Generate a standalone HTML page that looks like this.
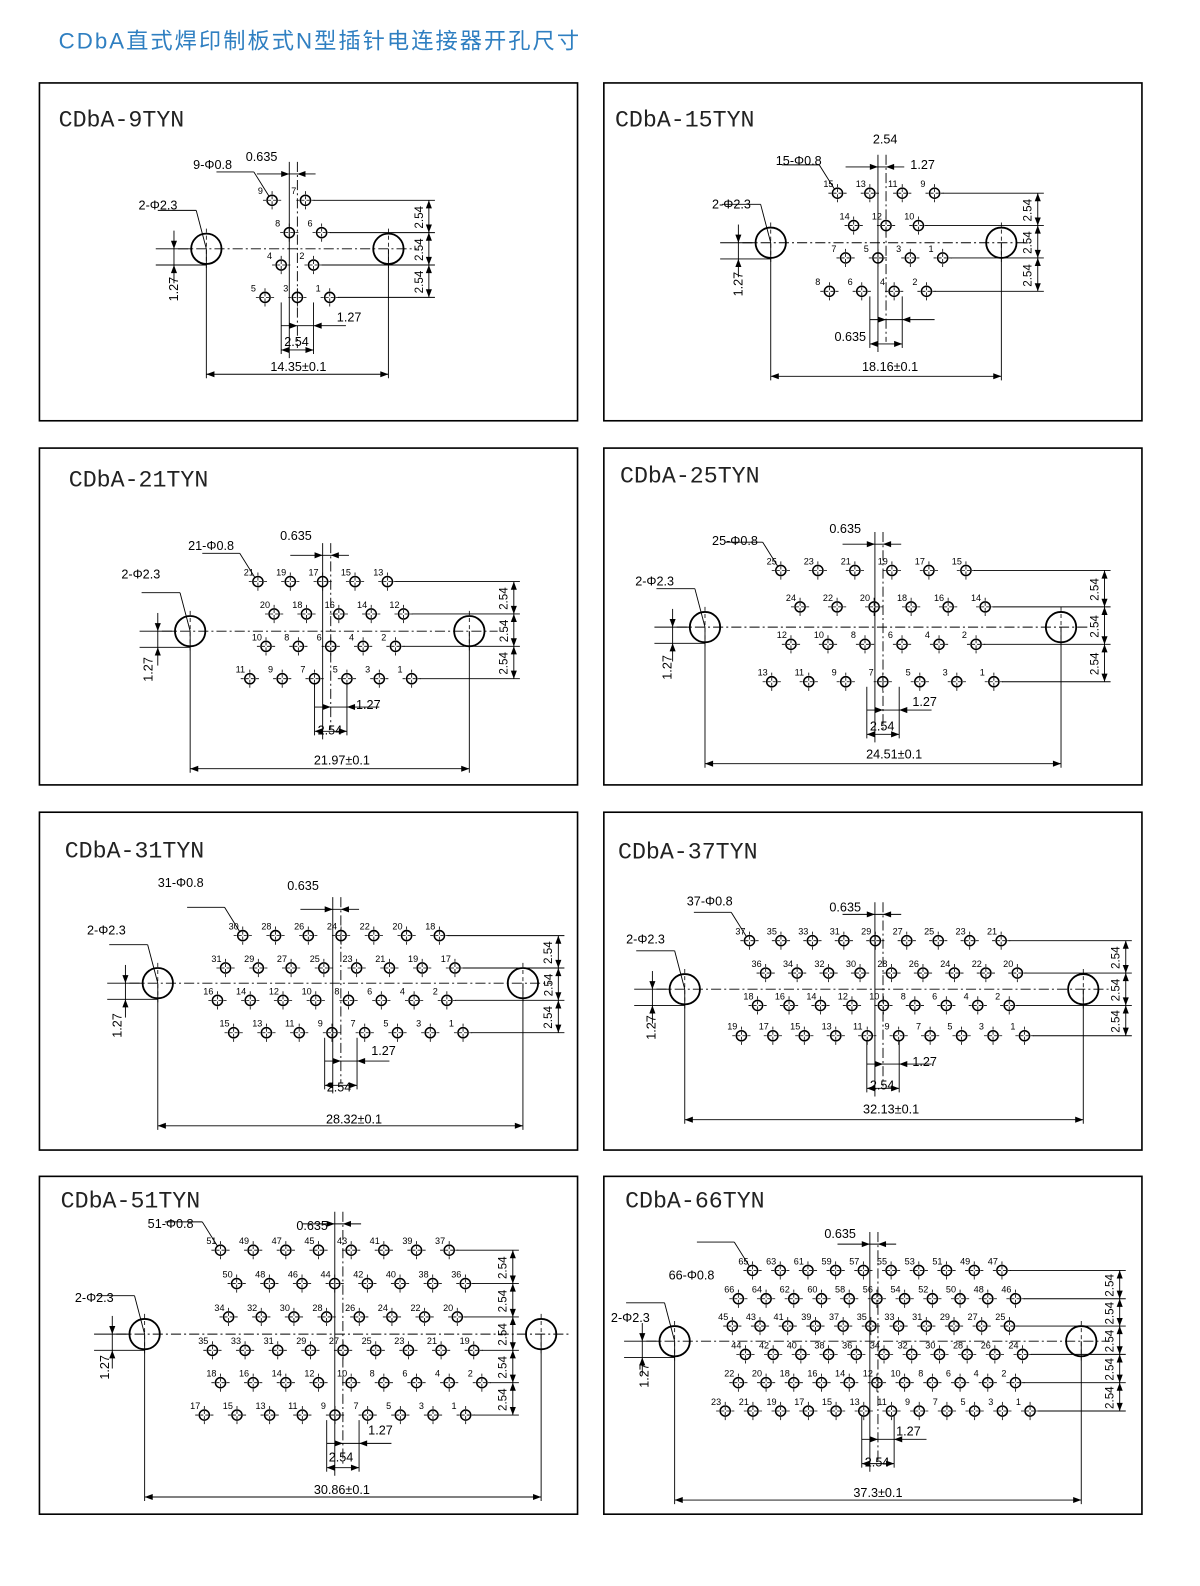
<!DOCTYPE html>
<html><head><meta charset="utf-8">
<style>
html,body{margin:0;padding:0;background:#fff;overflow:hidden;width:100%;height:100%}
svg{display:block;position:absolute;left:0;top:0;width:100vw;height:100vh}
text{font-family:"Liberation Sans",Arial,sans-serif;fill:#000}
.t{font-family:"Liberation Mono",monospace;font-size:23px;fill:#222}
.d{font-size:12.5px}
.p{font-size:9px}
</style></head><body>
<svg id="s" viewBox="0 0 1186.4 1568" preserveAspectRatio="none" xmlns="http://www.w3.org/2000/svg">
<text x="58" y="48" style="font-family:'Liberation Sans','Noto Sans CJK SC',sans-serif;font-size:22px;fill:#2f7fc1;letter-spacing:2px">CDbA直式焊印制板式N型插针电连接器开孔尺寸</text>
<g fill="none" stroke="#000" stroke-width="1.6">
<rect x="39" y="82" width="532" height="334"/><rect x="597" y="82" width="532" height="334"/>
<rect x="39" y="443" width="532" height="333"/><rect x="597" y="443" width="532" height="333"/>
<rect x="39" y="803" width="532" height="334"/><rect x="597" y="803" width="532" height="334"/>
<rect x="39" y="1163" width="532" height="334"/><rect x="597" y="1163" width="532" height="334"/>
</g>
<text class="t" x="58" y="125">CDbA-9TYN</text>
<text class="t" x="608" y="125">CDbA-15TYN</text>
<text class="t" x="68" y="481">CDbA-21TYN</text>
<text class="t" x="613" y="477">CDbA-25TYN</text>
<text class="t" x="64" y="848">CDbA-31TYN</text>
<text class="t" x="611" y="849">CDbA-37TYN</text>
<text class="t" x="60" y="1194">CDbA-51TYN</text>
<text class="t" x="618" y="1194">CDbA-66TYN</text>

<g class="d">
<text x="295" y="367" text-anchor="middle">14.35±0.1</text>
<text x="880" y="367" text-anchor="middle">18.16±0.1</text>
<text x="338" y="756" text-anchor="middle">21.97±0.1</text>
<text x="884" y="750" text-anchor="middle">24.51±0.1</text>
<text x="350" y="1111" text-anchor="middle">28.32±0.1</text>
<text x="881" y="1101" text-anchor="middle">32.13±0.1</text>
<text x="338" y="1477" text-anchor="middle">30.86±0.1</text>
<text x="868" y="1480" text-anchor="middle">37.3±0.1</text>

<text x="191" y="167">9-Φ0.8</text><text x="243" y="159">0.635</text><text x="137" y="207">2-Φ2.3</text>
<text x="281" y="342">2.54</text><text x="333" y="318">1.27</text>
<text transform="translate(176,298) rotate(-90)">1.27</text>

<text x="863" y="142">2.54</text><text x="900" y="167">1.27</text><text x="767" y="163">15-Φ0.8</text>
<text x="704" y="206">2-Φ2.3</text><text x="825" y="337">0.635</text>
<text transform="translate(734,293) rotate(-90)">1.27</text>

<text x="277" y="534">0.635</text><text x="186" y="544">21-Φ0.8</text><text x="120" y="572">2-Φ2.3</text>
<text x="352" y="701">1.27</text><text x="314" y="726">2.54</text>
<text transform="translate(151,674) rotate(-90)">1.27</text>

<text x="820" y="527">0.635</text><text x="704" y="539">25-Φ0.8</text><text x="628" y="579">2-Φ2.3</text>
<text x="902" y="698">1.27</text><text x="860" y="722">2.54</text>
<text transform="translate(664,672) rotate(-90)">1.27</text>

<text x="156" y="877">31-Φ0.8</text><text x="284" y="880">0.635</text><text x="86" y="924">2-Φ2.3</text>
<text x="367" y="1043">1.27</text><text x="323" y="1079">2.54</text>
<text transform="translate(120,1026) rotate(-90)">1.27</text>

<text x="679" y="895">37-Φ0.8</text><text x="820" y="901">0.635</text><text x="619" y="933">2-Φ2.3</text>
<text x="902" y="1054">1.27</text><text x="860" y="1077">2.54</text>
<text transform="translate(648,1028) rotate(-90)">1.27</text>

<text x="146" y="1214">51-Φ0.8</text><text x="293" y="1216">0.635</text><text x="74" y="1287">2-Φ2.3</text>
<text x="364" y="1418">1.27</text><text x="325" y="1445">2.54</text>
<text transform="translate(108,1364) rotate(-90)">1.27</text>

<text x="815" y="1224">0.635</text><text x="661" y="1265">66-Φ0.8</text><text x="604" y="1307">2-Φ2.3</text>
<text x="886" y="1419">1.27</text><text x="855" y="1450">2.54</text>
<text transform="translate(641,1372) rotate(-90)">1.27</text>
</g>
<g id="g" stroke="#000" fill="none" stroke-width="1.1"></g>
<g id="tx" class="p"></g>
</svg>
<script>
var NS="http://www.w3.org/2000/svg",G=document.getElementById("g"),TX=document.getElementById("tx");
function el(t,a,p){var e=document.createElementNS(NS,t);for(var k in a)e.setAttribute(k,a[k]);(p||G).appendChild(e);return e;}
function ln(x1,y1,x2,y2,da,w){var a={x1:x1,y1:y1,x2:x2,y2:y2};if(da)a["stroke-dasharray"]=da;if(w)a["stroke-width"]=w;el("line",a);}
function tx(x,y,s,cls,rot){var a={x:x,y:y};if(cls)a["class"]=cls;if(rot){a.transform="rotate(-90 "+x+" "+y+")";delete a["class"];a.style="font-size:11.5px";}var e=el("text",a,TX);e.textContent=s;}
function arrowV(x,y,dir){el("path",{d:"M"+x+" "+y+"l-3 "+(-8*dir)+"h6z",fill:"#000",stroke:"none"});}
function arrowH(x,y,dir){el("path",{d:"M"+x+" "+y+"l"+(-8*dir)+" -3v6z",fill:"#000",stroke:"none"});}
var P=[
{cy:246,b:[204,384],cx:294,rx:424,by:370,rows:[[198,269,33,9,2],[230,286,32,8,2],[262,278,32,4,2],[294,262,32,5,3]]},
{cy:240,b:[762,990],cx:876,rx:1026,by:372,rows:[[191,828,32,15,4],[223,844,32,14,3],[255,836,32,7,4],[288,820,32,8,4]]},
{cy:624,b:[188,464],cx:327,rx:508,by:760,rows:[[575,255,32,21,5],[607,271,32,20,5],[639,263,32,10,5],[671,247,32,11,6]]},
{cy:620,b:[697,1049],cx:873,rx:1092,by:755,rows:[[564,772,36.6,25,6],[600,791,36.6,24,6],[637,782,36.6,12,6],[674,763,36.6,13,7]]},
{cy:972,b:[156,517],cx:337,rx:552,by:1113,rows:[[925,240,32.4,30,7],[957,223,32.4,31,8],[989,215,32.4,16,8],[1021,231,32.4,15,8]]},
{cy:978,b:[677,1071],cx:873,rx:1113,by:1107,rows:[[930,741,31.1,37,9],[962,757,31.1,36,9],[994,749,31.1,18,9],[1024,733,31.1,19,10]]},
{cy:1319,b:[143,535],cx:339,rx:507,by:1480,rows:[[1236,218,32.3,51,8],[1269,234,32.3,50,8],[1302,226,32.3,34,8],[1335,210,32.3,35,9],[1367,218,32.3,18,9],[1399,202,32.3,17,9]]},
{cy:1326,b:[667,1069],cx:868,rx:1107,by:1483,rows:[[1256,744,27.4,65,10],[1284,730,27.4,66,11],[1311,724,27.4,45,11],[1339,737,27.4,44,11],[1367,730,27.4,22,11],[1395,717,27.4,23,12]]}
];
P.forEach(function(p){
  var b0=p.b[0],b1=p.b[1],cy=p.cy;
  ln(b0-28,cy,b1+28,cy,"10 3 2 3",0.9);
  var top=p.rows[0][0],bot=p.rows[p.rows.length-1][0];
  ln(p.cx,top-38,p.cx,bot+50,"10 3 2 3",0.9);
  ln(p.cx-8,top-38,p.cx-8,bot+60,null,0.9);
  [b0,b1].forEach(function(x){el("circle",{cx:x,cy:cy,r:15,"stroke-width":1.8});ln(x,cy-20,x,cy+20,"4 3",0.8);ln(x,cy,x,p.by+4,null,0.9);});
  ln(b0,p.by,b1,p.by,null,0.9);arrowH(b0,p.by,-1);arrowH(b1,p.by,1);
  var lx=b0-32;ln(lx-18,cy+16,b0,cy+16,null,0.9);ln(lx-18,cy,b0-15,cy,null,0.9);
  ln(lx,cy-18,lx,cy+34,null,0.9);arrowV(lx,cy,1);arrowV(lx,cy+16,-1);
  ln(b0-48,cy-38,b0-10,cy-38,null,0.9);ln(b0-10,cy-38,b0,cy,null,0.9);
  var ys=[];
  p.rows.forEach(function(r){
    var y=r[0],lab=r[3],xr=0;
    for(var i=0;i<r[4];i++){
      var x=r[1]+i*r[2];
      el("circle",{cx:x,cy:y,r:5,"stroke-width":1.5});
      ln(x-9,y,x+9,y,"3 2",0.8);ln(x,y-9,x,y+9,"3 2",0.8);
      tx(x-14,y-6,String(lab),"p");lab-=2;xr=x;
    }
    ys.push(y);
    ln(xr+8,y,p.rx+6,y,null,0.9);
  });
  ln(p.rx,ys[0],p.rx,ys[ys.length-1],null,0.9);
  for(var i=0;i<ys.length-1;i++){arrowV(p.rx,ys[i],-1);arrowV(p.rx,ys[i+1],1);tx(p.rx-6,(ys[i]+ys[i+1])/2+12,"2.54",null,true);}
  var f=p.rows[0];ln(f[1]-55,top-28,f[1]-18,top-28,null,0.9);ln(f[1]-18,top-28,f[1]-3,top-4,null,0.9);
  ln(p.cx-40,top-26,p.cx+18,top-26,null,0.9);arrowH(p.cx-8,top-26,1);arrowH(p.cx,top-26,-1);
  var yy=bot+28;ln(p.cx-16,yy,p.cx+48,yy,null,0.9);arrowH(p.cx,yy,1);arrowH(p.cx+16,yy,-1);
  ln(p.cx+16,bot+5,p.cx+16,yy+28,null,0.9);ln(p.cx-16,bot+5,p.cx-16,yy+28,null,0.9);
  ln(p.cx-16,yy+24,p.cx+16,yy+24,null,0.9);arrowH(p.cx-16,yy+24,-1);arrowH(p.cx+16,yy+24,1);
});
</script>
</body></html>
